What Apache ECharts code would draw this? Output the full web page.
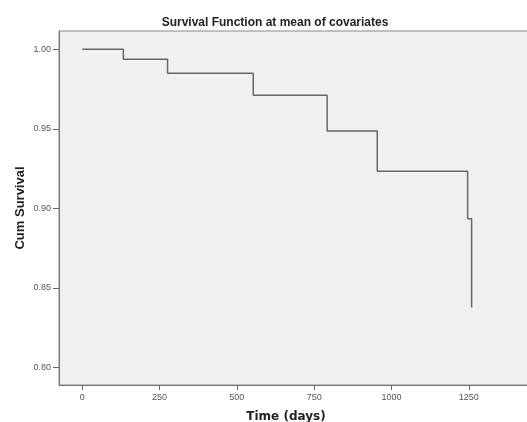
<!DOCTYPE html>
<html>
<head>
<meta charset="utf-8">
<script src="https://cdn.jsdelivr.net/npm/echarts@6/dist/echarts.min.js"></script>
<style>
  html, body { margin: 0; padding: 0; background: #fff; }
  #main { width: 527px; height: 422px; }
</style>
</head>
<body>
<div id="main"></div>
<script>
// step points of the survival curve
var times = [0, 133, 276, 553, 792, 954, 1246, 1259];
var survival = [1.000, 0.9937, 0.985, 0.9711, 0.9486, 0.9233, 0.8935, 0.8377];
var xTicks = [0, 250, 500, 750, 1000, 1250];
var yTicks = [0.80, 0.85, 0.90, 0.95, 1.00];

var pts = [];
for (var i = 0; i < times.length; i++) {
    pts.push([times[i], survival[i]]);
}

var myChart = echarts.init(document.getElementById('main'));
var option = {
    animation: false,
    backgroundColor: '#ffffff',
    title: {
        text: 'Survival Function at mean of covariates',
        left: 270,
        textAlign: 'center',
        top: 12,
        textStyle: { fontFamily: 'Liberation Sans', fontSize: 12, fontWeight: 'bold', color: '#222' }
    },
    grid: {
        left: 59, top: 31, bottom: 37, right: -4,
        outerBoundsMode: 'none',
        containLabel: false,
        show: true,
        backgroundColor: '#f0f0f0',
        borderColor: '#888',
        borderWidth: 1
    },
    xAxis: {
        type: 'value',
        min: -75,
        max: 1451,
        name: 'Time (days)',
        nameLocation: 'middle',
        nameGap: 26,
        nameMoveOverlap: false,
        nameTextStyle: { fontFamily: 'DejaVu Sans', fontSize: 12, fontWeight: 'bold', color: '#222', padding: [0, 0, 0, -18] },
        axisLine: { show: true, onZero: false, lineStyle: { color: '#777' } },
        axisTick: { show: true, length: 5, customValues: xTicks, lineStyle: { color: '#666' } },
        axisLabel: {
            customValues: xTicks, margin: 8, fontFamily: 'Liberation Sans', fontSize: 9, color: '#555',
            formatter: function (v) { return String(v); }
        },
        splitLine: { show: false }
    },
    yAxis: {
        type: 'value',
        min: 0.7889,
        max: 1.0115,
        name: 'Cum Survival',
        nameLocation: 'middle',
        nameGap: 32,
        nameMoveOverlap: false,
        nameTextStyle: { fontFamily: 'Liberation Sans', fontSize: 13, fontWeight: 'bold', color: '#222' },
        axisLine: { show: true, onZero: false, lineStyle: { color: '#777' } },
        axisTick: { show: true, length: 6, customValues: yTicks, lineStyle: { color: '#666' } },
        axisLabel: {
            customValues: yTicks, margin: 8, fontFamily: 'Liberation Sans', fontSize: 9, color: '#555',
            formatter: function (v) { return v.toFixed(2); }
        },
        splitLine: { show: false }
    },
    series: [
        {
            type: 'line',
            step: 'end',
            data: pts,
            showSymbol: false,
            lineStyle: { color: '#666', width: 1.5 }
        }
    ]
};
myChart.setOption(option);
</script>
</body>
</html>
